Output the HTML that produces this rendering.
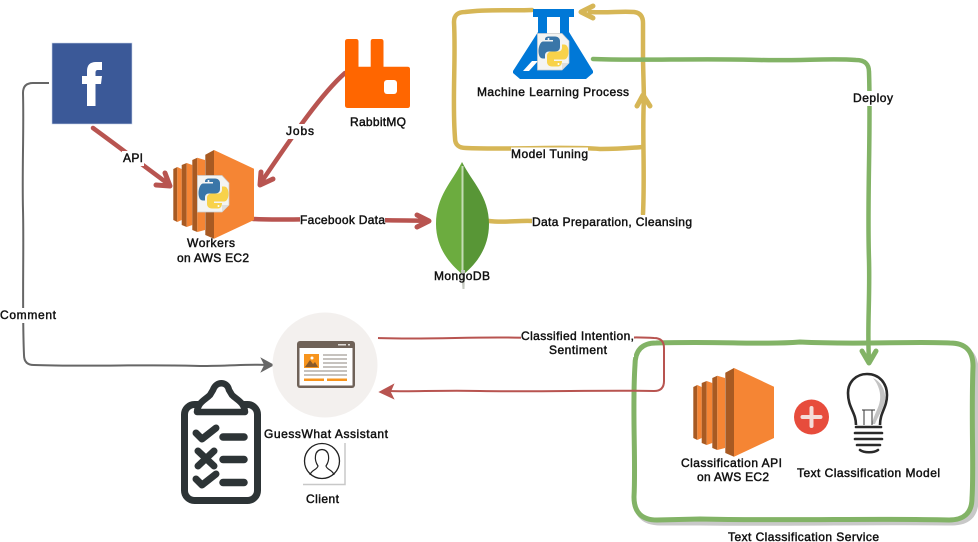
<!DOCTYPE html>
<html><head><meta charset="utf-8">
<style>
html,body{margin:0;padding:0;background:#fff;}
svg{display:block;}
text{font-family:"Liberation Sans",sans-serif;font-size:12px;fill:#111;stroke:#111;stroke-width:.45px;text-anchor:start;}
</style></head>
<body>
<svg width="978" height="542" viewBox="0 0 978 542" xmlns="http://www.w3.org/2000/svg">
<defs>
<g id="ec2">
  <path d="M0.300 19 L4.300 17 L4.300 72 L0.300 70Z" fill="#a85a22"/>
  <path d="M4.300 17 L8.700 19 L8.700 70 L4.300 72Z" fill="#f58534"/>
  <path d="M8.700 15 L13.700 13 L13.700 77 L8.700 75Z" fill="#a85a22"/>
  <path d="M13.700 13 L19.300 15 L19.300 75 L13.700 77Z" fill="#f58534"/>
  <path d="M19.300 10 L24.300 7.700 L24.300 82 L19.300 80Z" fill="#a85a22"/>
  <path d="M24.300 7.700 L32 10 L32 80 L24.300 82Z" fill="#f58534"/>
  <path d="M32.300 4.700 L41 0 L41 88.700 L32.300 85Z" fill="#a85a22"/>
  <path d="M41 0 L81 18.700 L81 70 L41 88.700Z" fill="#f58534"/>
</g>
<g id="py">
  <path d="M0.500 0.500H25L32 8V30L25 37H0.500Z" fill="#f4f4f2" stroke="#ccc" stroke-width=".7"/>
  <path d="M25 37L25 30H32Z" fill="#ddd"/>
  <path d="M12 3.500h6c3 0 5 2 5 4.500v6c0 3-2 4.500-5 4.500h-6c-2.500 0-4 1.500-4 4v3H6c-3 0-4.500-3-4.500-7.500S3.500 8.500 6 8.500h10V7H8c0-2.500 1-3.500 4-3.500z" fill="#3a76a8"/>
  <path d="M21 33.500h-6c-3 0-5-2-5-4.500v-6c0-3 2-4.500 5-4.500h6c2.500 0 4-1.500 4-4v-3h2c3 0 4.500 3 4.500 7.500s-2 7.500-4.500 7.500H17v1.500h8c0 2.500-1 5.500-4 5.500z" fill="#f8d24a"/>
  <circle cx="11.500" cy="6" r="1" fill="#fff"/><circle cx="21.500" cy="31" r="1" fill="#fff"/>
</g>
</defs>

<!-- green service box -->
<path d="M658 346 C720 344 790 347 860 345 C900 344 930 347 950 346 Q976 346 976 370 C975 420 977 470 976 500 Q976 523 952 523 C880 522 790 524 700 523 L660 523 Q636 523 636 500 C637 460 635 410 636 370 Q636 346 658 346Z" fill="none" stroke="#c8c8c8" stroke-width="5"/>
<path d="M656 343 C720 341 760 345 800 342 C860 345 910 341 950 343 Q973 343 973 366 C971 420 974 470 972 498 Q972 520 949 520 C880 518 790 521 700 519 L657 520 Q634 520 634 497 C636 460 632 410 635 365 Q635 343 656 343Z" fill="#fff" stroke="#82b366" stroke-width="5"/>

<!-- red feedback connector -->
<path d="M378 338 C430 340 480 336 530 338 C580 339 620 336 654 338 Q664 338 664 348 L664 381 Q664 391 654 391 C600 390 540 392 480 391 C440 390 410 392 390 391" fill="none" stroke="#b85450" stroke-width="2"/>
<path d="M380 392 L393 385 L390 392 L393 398Z" fill="#b85450" stroke="#b85450" stroke-width="1.500"/>

<!-- grey comment connector -->
<path d="M49 83 L33 83 Q23 83 23 93 C24 130 22 170 23 210 C24 250 22 310 24 355 Q24 365 34 365 C90 367 150 364 200 366 C230 366 250 364 268 365" fill="none" stroke="#666" stroke-width="2"/>
<path d="M273 365 L262 359 L265 365 L262 371Z" fill="#666" stroke="#666" stroke-width="1.500"/>

<!-- red thick connectors -->
<g fill="none" stroke="#b85450" stroke-width="4.500" stroke-linecap="round" stroke-linejoin="round">
  <path d="M93 128 C115 144 140 163 167 183"/>
  <path d="M156 185 L170 186 L165 173" stroke-width="5"/>
  <path d="M345 73 C320 95 290 140 262 181"/>
  <path d="M261 172 L260 185 L273 179" stroke-width="5"/>
  <path d="M253 219 C290 221 340 217 380 220 C400 221 415 220 427 221"/>
  <path d="M417 215 L429 221 L417 227" stroke-width="5"/>
</g>

<!-- yellow loop -->
<g fill="none" stroke="#d6b656" stroke-width="4.500" stroke-linecap="round" stroke-linejoin="round">
  <path d="M532 10 C510 11 490 9 465 12 Q454 12 454 22 C456 60 452 100 455 138 Q455 148 466 148 C510 150 560 146 600 149 C620 149 630 148 643 147"/>
  <path d="M590 12 C610 13 620 11 634 12 Q643 13 643 23 L643 60 L644 100"/>
  <path d="M644 98 C642 130 645 170 643 214"/>
  <path d="M489 221 C505 223 520 220 533 221"/>
  <path d="M593 6 L581 12 L593 18" stroke-width="5"/>
  <path d="M637 106 L643 95 L650 106" stroke-width="5"/>
</g>

<!-- green deploy -->
<g fill="none" stroke="#82b366" stroke-width="4.500" stroke-linecap="round" stroke-linejoin="round">
  <path d="M593 59 C640 61 700 58 760 60 C800 61 830 58 856 60 Q869 60 869 72 C871 130 867 200 869 260 C870 300 867 330 869 360"/>
  <path d="M862 351 L869 363 L876 351" stroke-width="5"/>
</g>

<!-- facebook -->
<rect x="52" y="43" width="80" height="81" fill="#3b5998" stroke="#c9d3e6" stroke-width=".6"/>
<path d="M87 106 V84 H82 V76 H87 V71 C87 65 90 62 96 62 H102 V70 H98 C96 70 95.500 71 95.500 73 V76 H102 L101 84 H95.500 V106Z" fill="#fff"/>

<!-- rabbitmq -->
<path d="M348 39 H356 Q358.500 39 358.500 41.500 V66.700 H370.700 V41.500 Q370.700 39 373 39 H381 Q383.500 39 383.500 41.500 V66.700 H407.500 Q410 66.700 410 69 V105.500 Q410 108 407.500 108 H348 Q345 108 345 105.500 V41.500 Q345 39 348 39Z" fill="#ff6600"/>
<rect x="384" y="80" width="13" height="14" rx="3" fill="#fff"/>

<!-- EC2s -->
<use href="#ec2" x="173" y="150"/>
<use href="#py" x="197" y="175"/>
<use href="#ec2" x="693" y="368"/>

<!-- flask -->
<path d="M533 9 H574 V17 H569 V32 L593 71 V73 L586 79 H520 L513 73 V71 L538 32 V17 H533Z" fill="#0078d7"/>
<rect x="547" y="17" width="13" height="17" fill="#fff"/>
<path d="M532 61 L538 61 L529 71 L523 71Z" fill="#fff"/>
<use href="#py" x="537" y="33"/>

<!-- mongodb -->
<path d="M462 162 C452 182 436 196 436 224 C436 248 450 264 462 274 Z" fill="#6cac3f"/>
<path d="M462 162 C472 182 489 196 489 224 C489 248 476 264 464 274 L463 275Z" fill="#589636"/>
<path d="M461.500 166 L463.500 166 L463.500 272 L461.500 272Z" fill="#c4dcb4"/>
<path d="M461 270 L465 270 L464.500 289 L462.500 289Z" fill="#c4c8c0"/>

<!-- assistant -->
<circle cx="325" cy="365" r="52.500" fill="#f3f0ee"/>
<rect x="297" y="341" width="58" height="47" rx="3" fill="#6f6258"/>
<rect x="299.500" y="348" width="53" height="37.500" fill="#fff"/>
<rect x="304" y="354" width="15" height="14" fill="#f7941d"/>
<path d="M305 367 L310 360 L313 364 L315 362 L318 367Z" fill="#8a5a2a"/>
<circle cx="312" cy="358" r="1.500" fill="#fff"/>
<g stroke="#8e857c" stroke-width="1"><path d="M323 355H347M323 359H347M323 363H347M323 367H347M304 371H347M304 375H347"/></g>
<rect x="304" y="378.500" width="20" height="2.500" fill="#f7941d"/><rect x="327" y="378.500" width="20" height="2.500" fill="#f7941d"/>
<rect x="338" y="344" width="8" height="1.500" fill="#e0dcd8"/><rect x="348" y="344" width="2" height="1.500" fill="#e0dcd8"/>

<!-- clipboard -->
<g fill="none" stroke="#2d3436" stroke-width="7" stroke-linecap="round" stroke-linejoin="round">
  <rect x="184.500" y="404.500" width="73" height="96" rx="10"/>
  <path d="M197 412 C198 402 205 400 210 395 L213 390 C216 381 227 381 229 390 L232 395 C237 400 244 402 245 412Z" fill="#fff" stroke-width="6.500"/>
  <path d="M196 433 L202 439 L216 428"/>
  <path d="M196 479 L202 485 L216 474"/>
  <path d="M198 451 L214 466 M214 451 L198 466" stroke-width="7"/>
  <path d="M223 437H244M223 459.500H244M223 482.500H244" stroke-width="7.500"/>
</g>

<!-- client -->
<path d="M345 443 V484.500 H303" fill="none" stroke="#c8c8c8" stroke-width="1.500"/>
<circle cx="322" cy="461" r="17.500" fill="#fff" stroke="#222" stroke-width="1.300"/>
<path d="M310 475 C311 470 317 470 318 466 C314 460 314 450 322 449.500 C330 450 330 460 326 466 C327 470 333 470 334 475" fill="none" stroke="#222" stroke-width="1.200"/>

<!-- plus -->
<circle cx="811.500" cy="417" r="17.500" fill="#e74c3c"/>
<path d="M811.500 408 V426 M802.500 417 H820.500" stroke="#f4dcd8" stroke-width="4" stroke-linecap="round"/>

<!-- bulb -->
<path d="M873 378 C882 382 886 392 885 400 C884 408 878 416 875 424 L872 424 C874 414 879 408 880 400 C881 392 878 384 873 378Z" fill="#c4c4c4"/>
<path d="M856 425 C856 412 848 408 848 393 C848 382 856 374 867 374 C880 374 887 384 887 395 C887 408 880 412 880 425" fill="none" stroke="#2a2a2a" stroke-width="2.600"/>
<path d="M864 425 V410 M872 425 V410 M862 410 H875" fill="none" stroke="#333" stroke-width="1"/>
<g fill="none" stroke="#2a2a2a" stroke-width="2.600" stroke-linecap="round">
  <path d="M856 427 H881 M855 433 H882 M855 439 H882 M857 445 H880"/>
  <path d="M860 450 C864 453 874 453 878 450"/>
</g>

<!-- label backgrounds -->
<g fill="#fff">
  <rect x="122" y="151" width="22" height="15"/>
  <rect x="285" y="124" width="30" height="15"/>
  <rect x="511" y="147.500" width="77" height="14"/>
  <rect x="300" y="213" width="85" height="14"/>
  <rect x="532" y="215" width="160" height="15"/>
  <rect x="852" y="91" width="42" height="15"/>
  <rect x="0" y="308" width="56" height="15"/>
  <rect x="521" y="329" width="113" height="28"/>
</g>

<!-- labels -->
<text x="123" y="162" textLength="20">API</text>
<text x="286" y="135" textLength="28">Jobs</text>
<text x="187" y="247" textLength="48">Workers</text>
<text x="177" y="262" textLength="72">on AWS EC2</text>
<text x="350" y="126" textLength="56">RabbitMQ</text>
<text x="477" y="96" textLength="152">Machine Learning Process</text>
<text x="511" y="158" textLength="77">Model Tuning</text>
<text x="300" y="224" textLength="85">Facebook Data</text>
<text x="532" y="226" textLength="160">Data Preparation, Cleansing</text>
<text x="434" y="280" textLength="56">MongoDB</text>
<text x="853" y="102" textLength="40">Deploy</text>
<text x="0" y="319" textLength="56">Comment</text>
<text x="521" y="340" textLength="113">Classified Intention,</text>
<text x="549" y="354" textLength="58">Sentiment</text>
<text x="264" y="438" textLength="124">GuessWhat Assistant</text>
<text x="306" y="503" textLength="33">Client</text>
<text x="681" y="467" textLength="101">Classification API</text>
<text x="697" y="481" textLength="72">on AWS EC2</text>
<text x="797" y="477" textLength="143">Text Classification Model</text>
<text x="728" y="541" textLength="151">Text Classification Service</text>
</svg>
</body></html>
